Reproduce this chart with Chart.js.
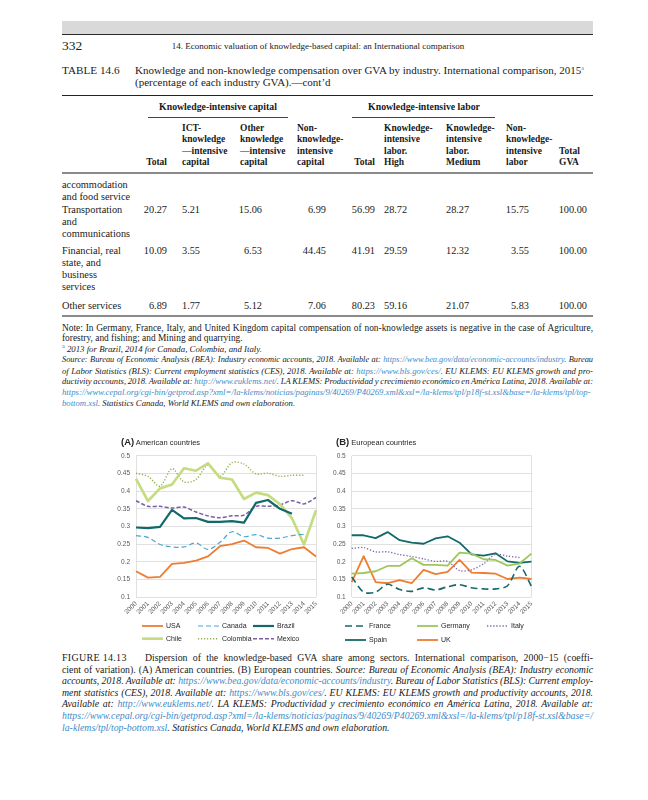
<!DOCTYPE html>
<html>
<head>
<meta charset="utf-8">
<script src="https://cdn.jsdelivr.net/npm/chart.js@4.4.1/dist/chart.umd.min.js"></script>
<style>
html, body { margin: 0; padding: 0; background: #fff; }
#page { position: relative; width: 648px; height: 800px; overflow: hidden; font-family: 'Liberation Serif', serif; color: #1a1a1a; }
.t { position: absolute; white-space: nowrap; line-height: 12px; }
.rule { position: absolute; }
a { color: #3f8ac7; text-decoration: none; }
sup { font-size: 6px; vertical-align: 4px; line-height: 0; color: #3f8ac7; }
canvas { position: absolute; }
</style>
</head>
<body>
<div id="page">
  <canvas id="chartA" width="225" height="206" style="left:100px;top:446px"></canvas>
  <canvas id="chartB" width="225" height="206" style="left:315px;top:446px"></canvas>
</div>
<script>
// ---- chart data ----
var years = ['2000', '2001', '2002', '2003', '2004', '2005', '2006', '2007',
  '2008', '2009', '2010', '2011', '2012', '2013', '2014', '2015'];
var usa = [0.173, 0.155, 0.157, 0.194, 0.197, 0.203, 0.215, 0.244, 0.250, 0.260, 0.241, 0.239, 0.223, 0.236, 0.241, 0.215];
var canada = [0.274, 0.269, 0.249, 0.242, 0.242, 0.253, 0.235, 0.255, 0.285, 0.271, 0.277, 0.267, 0.267, 0.274, 0.278, null];
var brazil = [0.297, 0.295, 0.299, 0.347, 0.323, 0.324, 0.313, 0.313, 0.315, 0.311, 0.367, 0.375, 0.350, 0.336, null, null];
var chile = [0.435, 0.372, 0.408, 0.419, 0.465, 0.458, 0.479, 0.438, 0.433, 0.378, 0.396, 0.389, 0.363, 0.323, 0.249, 0.346];
var colombia = [0.451, 0.442, 0.414, 0.464, 0.426, 0.433, 0.474, 0.442, 0.481, 0.477, 0.449, 0.451, 0.442, 0.445, 0.445, null];
var mexico = [0.373, 0.357, 0.357, 0.352, 0.355, 0.341, 0.330, 0.325, 0.330, 0.332, 0.357, 0.357, 0.361, 0.373, 0.364, 0.382];

var france = [0.157, 0.114, 0.114, 0.136, 0.121, 0.116, 0.126, 0.120, 0.129, 0.135, 0.126, 0.123, 0.123, 0.132, 0.187, 0.130];
var germany = [0.166, 0.168, 0.173, 0.188, 0.188, 0.210, 0.191, 0.191, 0.189, 0.226, 0.223, 0.207, 0.205, 0.189, 0.195, 0.223];
var italy = [0.238, 0.240, 0.228, 0.228, 0.220, 0.215, 0.208, 0.201, 0.201, 0.175, 0.177, 0.194, 0.221, 0.216, 0.212, null];
var spain = [0.275, 0.275, 0.267, 0.284, 0.261, 0.254, 0.251, 0.266, 0.272, 0.254, 0.221, 0.217, 0.224, 0.201, 0.197, 0.200];
var uk = [0.142, 0.216, 0.142, 0.139, 0.148, 0.139, 0.177, 0.165, 0.171, 0.205, 0.169, 0.168, 0.166, 0.151, 0.155, 0.151];

var yMin = 0.1, yMax = 0.5, yStep = 0.05;

// ---- table data ----
var groupHeads = [['Knowledge-intensive capital', 218], ['Knowledge-intensive labor', 424]];
var headY = [127.5, 139, 150.5, 162];
var headCols = [
  { x: 167, a: 'r', lines: ['', '', '', 'Total'] },
  { x: 182, lines: ['ICT-', 'knowledge', '\u2014intensive', 'capital'] },
  { x: 240, lines: ['Other', 'knowledge', '\u2014intensive', 'capital'] },
  { x: 297, lines: ['Non-', 'knowledge-', 'intensive', 'capital'] },
  { x: 375, a: 'r', lines: ['', '', '', 'Total'] },
  { x: 384, lines: ['Knowledge-', 'intensive', 'labor.', 'High'] },
  { x: 446, lines: ['Knowledge-', 'intensive', 'labor.', 'Medium'] },
  { x: 506, lines: ['Non-', 'knowledge-', 'intensive', 'labor'] },
  { x: 559, lines: ['', '', 'Total', 'GVA'] }
];
var valCols = [[167, 'r'], [182, 'l'], [262, 'r'], [326, 'r'], [375, 'r'], [384, 'l'], [446, 'l'], [529, 'r'], [587, 'r']];
var rowLabels = [
  [['accommodation', 185.3], ['and food service', 197.4], ['Transportation', 209.5], ['and', 221.6], ['communications', 233.7]],
  [['Financial, real', 250.8], ['state, and', 262.9], ['business', 275], ['services', 287.1]],
  [['Other services', 306.2]]
];
var rowValY = [209.5, 250.8, 306.2];
var rowVals = [
  ['20.27', '5.21', '15.06', '6.99', '56.99', '28.72', '28.27', '15.75', '100.00'],
  ['10.09', '3.55', '6.53', '44.45', '41.91', '29.59', '12.32', '3.55', '100.00'],
  ['6.89', '1.77', '5.12', '7.06', '80.23', '59.16', '21.07', '5.83', '100.00']
];

var page = document.getElementById('page');

function put(html, x, cy, style, align) {
  var d = document.createElement('div');
  d.className = 't';
  d.innerHTML = html;
  d.style.cssText = (style || '') + ';left:' + x + 'px;top:' + (cy - 6) + 'px';
  if (align == 'r') d.style.transform = 'translateX(-100%)';
  if (align == 'c') d.style.transform = 'translateX(-50%)';
  page.appendChild(d);
  return d;
}
function fit(d, w) {
  var cur = d.getBoundingClientRect().width;
  var n = (d.textContent.match(/ /g) || []).length;
  if (n > 0) d.style.wordSpacing = ((w - cur) / n) + 'px';
  else d.style.letterSpacing = ((w - cur) / d.textContent.length) + 'px';
}
function rule(y, h, x1, x2, col) {
  var d = document.createElement('div');
  d.className = 'rule';
  d.style.cssText = 'left:' + x1 + 'px;top:' + y + 'px;width:' + (x2 - x1) + 'px;height:' + h + 'px;background:' + col;
  page.appendChild(d);
}

// running head
rule(21, 12.5, 62, 593, '#d9d9d9');
rule(33.5, 1.5, 62, 593, '#2a2a2a');
put('332', 62, 45.5, 'font-size:13.5px');
put('14. Economic valuation of knowledge-based capital: an International comparison', 318, 45.5, 'font-size:9px', 'c');

// table title
put('TABLE 14.6', 62, 70, 'font-size:11.2px');
fit(put('Knowledge and non-knowledge compensation over GVA by industry. International comparison, 2015<sup>a</sup>', 135, 70, 'font-size:11px'), 449);
put('(percentage of each industry GVA).\u2014cont\u2019d', 135, 81.5, 'font-size:11px');

// table
rule(95, 1.4, 62, 593, '#222');
groupHeads.forEach(function (g) { put('<b>' + g[0] + '</b>', g[1], 106.7, 'font-size:9.8px', 'c'); });
rule(117.3, 0.8, 148, 288, '#444');
rule(117.3, 0.8, 352, 495, '#444');
headCols.forEach(function (c) {
  c.lines.forEach(function (s, i) { if (s) put('<b>' + s + '</b>', c.x, headY[i], 'font-size:9.5px', c.a); });
});
rule(171.5, 2, 62, 593, '#8a8a8a');
rowLabels.forEach(function (blk) {
  blk.forEach(function (l) { put(l[0], 62, l[1], 'font-size:10.3px'); });
});
rowVals.forEach(function (r, ri) {
  r.forEach(function (v, ci) { put(v, valCols[ci][0], rowValY[ri], 'font-size:10.3px', valCols[ci][1]); });
});
rule(315, 2, 62, 593, '#8a8a8a');

// table notes: [html, font size, justify width]
var noteLines = [
  ['Note: In Germany, France, Italy, and United Kingdom capital compensation of non-knowledge assets is negative in the case of Agriculture,', 9.4, 531],
  ['forestry, and fishing; and Mining and quarrying.', 9.4, 0],
  ['<sup>a</sup> <i>2013 for Brazil, 2014 for Canada, Colombia, and Italy.</i>', 8.8, 0],
  ['<i>Source: Bureau of Economic Analysis (BEA): Industry economic accounts, 2018. Available at: <a>https://www.bea.gov/data/economic-accounts/industry</a>. Bureau</i>', 8.35, 531],
  ['<i>of Labor Statistics (BLS): Current employment statistics (CES), 2018. Available at: <a>https://www.bls.gov/ces/</a>. EU KLEMS: EU KLEMS growth and pro-</i>', 8.7, 531],
  ['<i>ductivity accounts, 2018. Available at: <a>http://www.euklems.net/</a>. LA KLEMS: Productividad y crecimiento econ\u00f3mico en Am\u00e9rica Latina, 2018. Available at:</i>', 8.6, 531],
  ['<i><a>https://www.cepal.org/cgi-bin/getprod.asp?xml=/la-klems/noticias/paginas/9/40269/P40269.xml&amp;xsl=/la-klems/tpl/p18f-st.xsl&amp;base=/la-klems/tpl/top-</a></i>', 8.7, 0],
  ['<i><a>bottom.xsl</a>. Statistics Canada, World KLEMS and own elaboration.</i>', 8.7, 0]
];
noteLines.forEach(function (l, i) {
  var d = put(l[0], 62, 327.5 + i * 10.75, 'font-size:' + l[1] + 'px');
  if (l[2]) fit(d, l[2]);
});

// chart titles
put('<b style="font-size:9.5px">(A)</b> American countries', 121, 441.7, 'font-family:\'Liberation Sans\',sans-serif;font-size:7.5px;color:#262626');
put('<b style="font-size:9.5px">(B)</b> European countries', 336, 441.7, 'font-family:\'Liberation Sans\',sans-serif;font-size:7.5px;color:#262626');

// figure caption
put('FIGURE 14.13', 62, 658, 'font-size:10px;letter-spacing:0.3px');
var capLines = [
  ['Dispersion of the knowledge-based GVA share among sectors. International comparison, 2000\u221215 (coeffi-', 145, 448],
  ['cient of variation). (A) American countries. (B) European countries. <i>Source: Bureau of Economic Analysis (BEA): Industry economic</i>', 62, 531],
  ['<i>accounts, 2018. Available at: <a>https://www.bea.gov/data/economic-accounts/industry</a>. Bureau of Labor Statistics (BLS): Current employ-</i>', 62, 531],
  ['<i>ment statistics (CES), 2018. Available at: <a>https://www.bls.gov/ces/</a>. EU KLEMS: EU KLEMS growth and productivity accounts, 2018.</i>', 62, 531],
  ['<i>Available at: <a>http://www.euklems.net/</a>. LA KLEMS: Productividad y crecimiento econ\u00f3mico en Am\u00e9rica Latina, 2018. Available at:</i>', 62, 531],
  ['<i><a>https://www.cepal.org/cgi-bin/getprod.asp?xml=/la-klems/noticias/paginas/9/40269/P40269.xml&amp;xsl=/la-klems/tpl/p18f-st.xsl&amp;base=/</a></i>', 62, 531],
  ['<i><a>la-klems/tpl/top-bottom.xsl</a>. Statistics Canada, World KLEMS and own elaboration.</i>', 62, 0]
];
capLines.forEach(function (l, i) {
  var d = put(l[0], l[1], 658 + i * 11.6, 'font-size:9.8px');
  if (l[2]) fit(d, l[2]);
});

// ---- charts ----
var gridCol = '#d9d9d9';
var tickFont = { family: 'Liberation Sans', size: 6.5 };

var gridLegend = {
  id: 'gridLegend',
  afterDraw: function (chart, args, opts) {
    var ctx = chart.ctx;
    chart.data.datasets.forEach(function (ds, i) {
      var x = opts.cols[i % opts.cols.length];
      var y = opts.rows[Math.floor(i / opts.cols.length)];
      ctx.save();
      ctx.strokeStyle = ds.borderColor;
      ctx.lineWidth = ds.borderWidth;
      ctx.setLineDash(ds.borderDash || []);
      ctx.beginPath();
      ctx.moveTo(x, y);
      ctx.lineTo(x + opts.len, y);
      ctx.stroke();
      ctx.setLineDash([]);
      ctx.fillStyle = '#262626';
      ctx.font = '7px "Liberation Sans"';
      ctx.textBaseline = 'middle';
      ctx.fillText(ds.label, x + opts.len + 3, y + 0.5);
      ctx.restore();
    });
  }
};

function makeChart(id, sets, yw, padR, legend) {
  return new Chart(document.getElementById(id), {
    type: 'line',
    data: { labels: years, datasets: sets },
    options: {
      responsive: false,
      animation: false,
      layout: { padding: { left: 0, right: padR, top: 6, bottom: 33 } },
      elements: { point: { radius: 0 }, line: { borderJoinStyle: 'round' } },
      scales: {
        x: {
          grid: {
            drawTicks: false, lineWidth: 0.8,
            color: function (c) { return (c.index === 0 || c.index === years.length - 1) ? gridCol : 'rgba(0,0,0,0)'; }
          },
          border: { display: false },
          ticks: { autoSkip: false, minRotation: 45, maxRotation: 45, padding: 3, font: tickFont, color: '#595959' },
          afterFit: function (s) { s.height = 22; }
        },
        y: {
          min: yMin, max: yMax,
          grid: { drawTicks: false, color: gridCol, lineWidth: 0.8 },
          border: { display: false },
          ticks: {
            stepSize: yStep, padding: 6, font: tickFont, color: '#595959',
            callback: function (v) { return String(+v.toFixed(2)); }
          },
          afterFit: function (s) { s.width = yw; }
        }
      },
      plugins: { legend: { display: false }, tooltip: { enabled: false }, gridLegend: legend }
    },
    plugins: [gridLegend]
  });
}

makeChart('chartA', [
  { label: 'USA', data: usa, borderColor: '#ed7d31', borderWidth: 1.8 },
  { label: 'Canada', data: canada, borderColor: '#4aa8d0', borderWidth: 1.2, borderDash: [5, 3], tension: 0.35 },
  { label: 'Brazil', data: brazil, borderColor: '#13696a', borderWidth: 2.2 },
  { label: 'Chile', data: chile, borderColor: '#c6dc80', borderWidth: 2.7 },
  { label: 'Colombia', data: colombia, borderColor: '#8fb04a', borderWidth: 1.4, borderDash: [1.2, 1.8], tension: 0.3 },
  { label: 'Mexico', data: mexico, borderColor: '#7b5ea7', borderWidth: 1.5, borderDash: [4, 2], tension: 0.3 }
], 36, 9, { cols: [42, 98, 153], rows: [180, 192.7], len: 21 });

makeChart('chartB', [
  { label: 'France', data: france, borderColor: '#17696a', borderWidth: 1.6, borderDash: [7, 4], tension: 0.3 },
  { label: 'Germany', data: germany, borderColor: '#9dc75b', borderWidth: 1.8 },
  { label: 'Italy', data: italy, borderColor: '#8064a2', borderWidth: 1.3, borderDash: [1.3, 1.8], tension: 0.3 },
  { label: 'Spain', data: spain, borderColor: '#13696a', borderWidth: 1.8 },
  { label: 'UK', data: uk, borderColor: '#ed7d31', borderWidth: 1.8 }
], 36.7, 8, { cols: [30, 102, 172], rows: [180, 194], len: 21 });
</script>
</body>
</html>
